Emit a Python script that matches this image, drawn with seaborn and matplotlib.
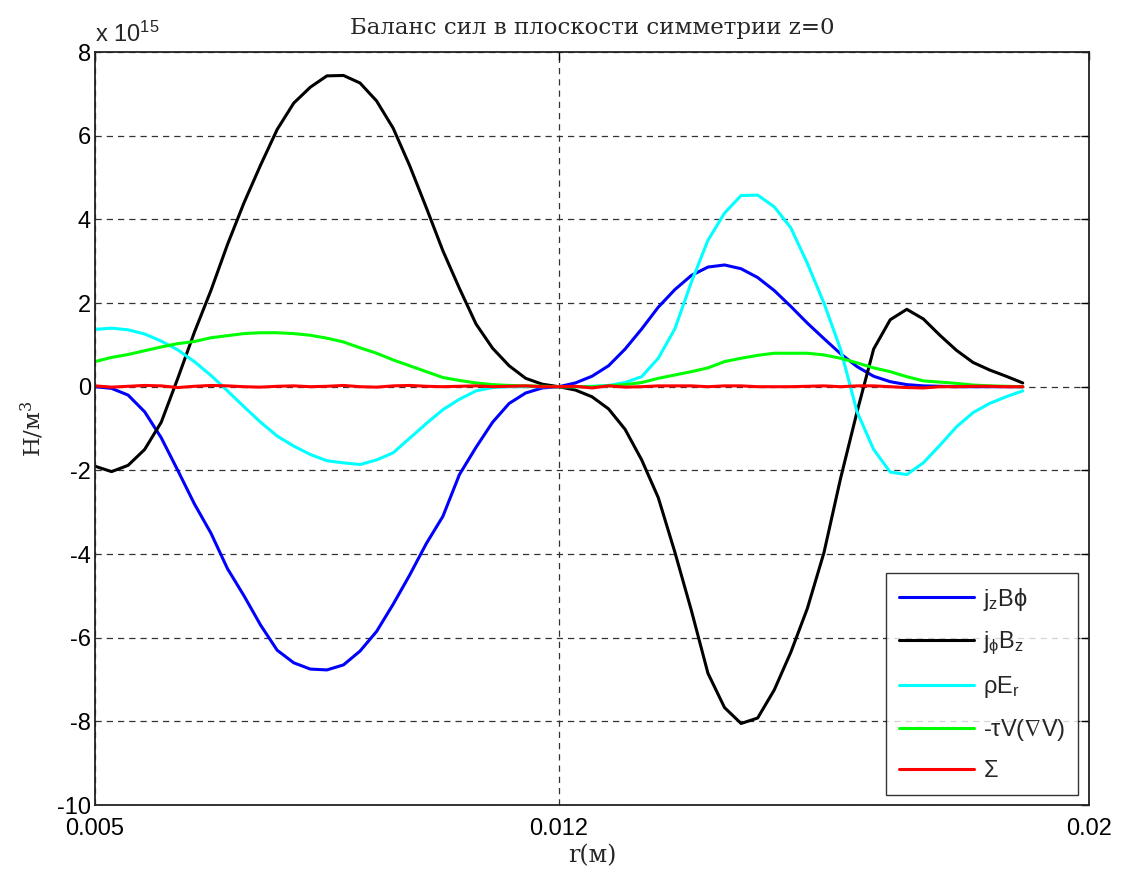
import numpy as np
import pandas as pd
import matplotlib
matplotlib.use("Agg")
import matplotlib.pyplot as plt
import seaborn as sns

# ---- data (values in units of 1e15 N/m^3) ----
r = [0.005 + k * 0.00025 for k in range(57)]

jzBphi = [0, -0.04, -0.2, -0.6, -1.22, -2.0, -2.8, -3.5, -4.35, -5.0, -5.7, -6.3, -6.6, -6.75, -6.77,
          -6.65, -6.32, -5.85, -5.2, -4.5, -3.75, -3.1, -2.1, -1.45, -0.85, -0.4, -0.15, -0.03, 0,
          0.09, 0.25, 0.5, 0.9, 1.38, 1.9, 2.32, 2.66, 2.86, 2.91, 2.82, 2.61, 2.3, 1.92, 1.52, 1.15,
          0.79, 0.48, 0.25, 0.12, 0.05, 0.02, 0.01, 0, 0, 0, 0, 0]

jphiBz = [-1.9, -2.03, -1.88, -1.5, -0.85, 0.2, 1.3, 2.3, 3.4, 4.4, 5.3, 6.15, 6.78, 7.16, 7.43,
          7.44, 7.26, 6.83, 6.18, 5.28, 4.28, 3.25, 2.35, 1.5, 0.92, 0.5, 0.2, 0.06, 0,
          -0.08, -0.24, -0.53, -1.02, -1.75, -2.65, -3.95, -5.35, -6.85, -7.67, -8.05, -7.92, -7.25,
          -6.35, -5.3, -3.97, -2.2, -0.6, 0.9, 1.6, 1.85, 1.62, 1.23, 0.87, 0.58, 0.4, 0.25, 0.09]

rhoEr = [1.37, 1.4, 1.36, 1.26, 1.09, 0.88, 0.6, 0.27, -0.1, -0.48, -0.85, -1.18, -1.42, -1.62, -1.77,
         -1.82, -1.86, -1.75, -1.58, -1.23, -0.88, -0.55, -0.3, -0.1, -0.02, 0, 0, 0, 0,
         0.0, 0.01, 0.03, 0.1, 0.24, 0.68, 1.38, 2.5, 3.5, 4.15, 4.57, 4.58, 4.3, 3.8, 2.95, 2.0,
         0.9, -0.6, -1.5, -2.04, -2.1, -1.82, -1.4, -0.96, -0.62, -0.4, -0.24, -0.1]

tauVgradV = [0.6, 0.7, 0.77, 0.86, 0.95, 1.03, 1.08, 1.17, 1.22, 1.27, 1.29, 1.29, 1.27, 1.23, 1.16,
             1.07, 0.93, 0.8, 0.64, 0.5, 0.36, 0.22, 0.15, 0.09, 0.05, 0.03, 0.02, 0.01, 0,
             0.0, 0.0, 0.02, 0.05, 0.1, 0.2, 0.28, 0.36, 0.45, 0.6, 0.68, 0.75, 0.8, 0.8, 0.8, 0.76,
             0.68, 0.57, 0.45, 0.36, 0.24, 0.14, 0.11, 0.08, 0.04, 0.02, 0.01, 0.0]

sigma = [0.02, -0.01, 0.01, 0.03, 0.02, -0.02, 0.01, 0.03, 0.02, 0.0, -0.01, 0.01, 0.02, 0.0, 0.01,
         0.03, 0.0, -0.01, 0.02, 0.03, 0.01, 0.0, 0.01, 0.02, 0.0, 0.01, 0.02, 0.0, 0.0,
         0.01, -0.03, 0.02, -0.01, 0.0, 0.02, 0.02, 0.02, 0.0, 0.02, 0.02, 0.0, 0.0, 0.0, 0.01,
         0.02, 0.0, 0.02, 0.02, 0.0, -0.02, -0.03, 0.0, 0.0, 0.01, 0.01, 0.0, 0.0]

labels = ["j$_z$B$\\phi$", "j$_\\phi$B$_z$", "$\\rho$E$_r$", "-$\\tau$V($\\nabla$V)", "$\\Sigma$"]
colors = ["#0000ff", "#000000", "#00ffff", "#00ff00", "#ff0000"]
series = [jzBphi, jphiBz, rhoEr, tauVgradV, sigma]

xticks = [0.005, 0.012, 0.02]
xticklabels = ["0.005", "0.012", "0.02"]
yticks = list(range(-10, 9, 2))

title = "Баланс сил в плоскости симметрии z=0"
xlabel = "r(м)"
ylabel = "Н/м$^3$"

# ---- build table ----
frames = []
for lab, vals in zip(labels, series):
    frames.append(pd.DataFrame({"r": r, "F": vals, "term": lab}))
df = pd.concat(frames, ignore_index=True)

sns.set_theme(style="white")
plt.rcParams["font.family"] = ["Liberation Sans", "DejaVu Sans"]
plt.rcParams["mathtext.fontset"] = "custom"
plt.rcParams["mathtext.rm"] = "Liberation Sans"
plt.rcParams["mathtext.it"] = "Liberation Sans"
plt.rcParams["mathtext.default"] = "regular"

fig = plt.figure(figsize=(11.25, 8.76), dpi=100)
ax = fig.add_axes([0.0844, 0.081, 0.8836, 0.8596])

sns.lineplot(data=df, x="r", y="F", hue="term", hue_order=labels,
             palette=dict(zip(labels, colors)), estimator=None, sort=False,
             linewidth=2.2, ax=ax)

ax.set_xlim(0.005, 0.02)
ax.set_ylim(-10, 8)
ax.set_xticks(xticks)
ax.set_xticklabels(xticklabels)
ax.set_yticks(yticks)
ax.set_yticklabels([str(t) for t in yticks])

ax.grid(True, color="#333333", linestyle=(0, (5, 4)), linewidth=0.9)
for s in ax.spines.values():
    s.set_color("#222222")
    s.set_linewidth(1.3)
ax.tick_params(direction="in", length=6, width=1, top=True, right=True,
               labelsize=17, colors="#000000")
ax.tick_params(axis="x", pad=9)
ax.tick_params(axis="y", pad=3)

serif = ["DejaVu Serif"]
ax.set_title(title, fontsize=16.5, family=serif, pad=13)
ax.set_xlabel(xlabel, fontsize=17, family=serif, labelpad=3)
ax.set_ylabel(ylabel, fontsize=16.5, family=serif, labelpad=8)
ax.text(0.0, 1.013, "x 10$^{15}$", transform=ax.transAxes, fontsize=17,
        ha="left", va="baseline")

leg = ax.legend(loc="lower right", fontsize=17, frameon=True, fancybox=False,
                handlelength=3.2, handletextpad=0.35, borderpad=0.55,
                labelspacing=0.72, borderaxespad=0,
                bbox_to_anchor=(0.989, 0.0133))
leg.get_frame().set_edgecolor("#000000")
leg.get_frame().set_linewidth(1.0)
leg.set_title(None)

fig.savefig("out.png", dpi=100, facecolor="white")
